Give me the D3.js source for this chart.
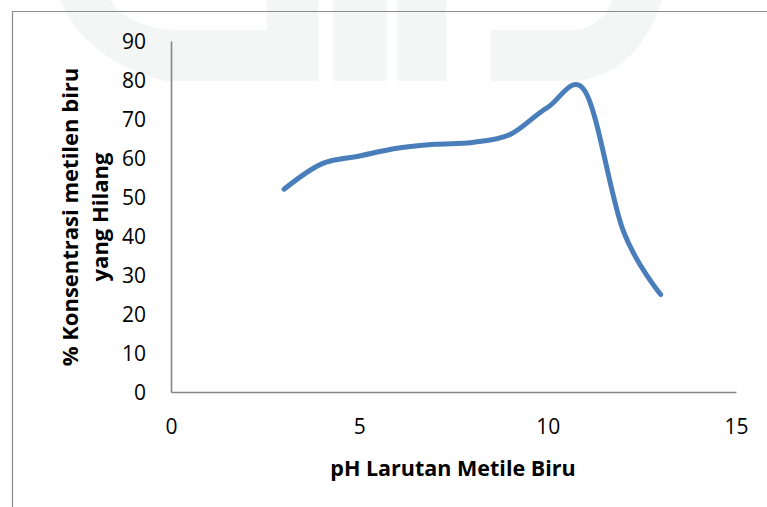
<!DOCTYPE html>
<html>
<head>
<meta charset="utf-8">
<script src="https://cdn.jsdelivr.net/npm/d3@7"></script>
<style>
  html, body { margin: 0; padding: 0; background: #ffffff; }
  svg { display: block; }
  text { font-family: "Open Sans", Carlito, Calibri, sans-serif; fill: #000; }
</style>
</head>
<body>
<svg id="chart" width="767" height="507"></svg>
<script>
// pH of the methylene blue solution and the percentage of dye removed
const phValues = [3, 4, 5, 6, 7, 8, 9, 10, 11, 12, 13];
const removedPercent = [52, 58.5, 60.5, 62.5, 63.5, 64, 66, 73, 77, 41.5, 25];
const xTicks = [0, 5, 10, 15];
const yTicks = [0, 10, 20, 30, 40, 50, 60, 70, 80, 90];
const xTitle = "pH Larutan Metile Biru";
const yTitleLines = ["% Konsentrasi metilen biru", "yang Hilang"];

const svg = d3.select("#chart");
const W = 767, H = 507;
const plot = { left: 171, right: 736, top: 41, bottom: 392 };

// faint background logo shapes
const wm = svg.append("g").attr("fill", "#f4f6f5");
wm.append("path").attr("d",
  "M60,0 L110,0 Q130,28 175,30 L267,30 L267,0 L318,0 L318,81 L165,81 Q85,60 60,0 Z");
wm.append("rect").attr("x", 333).attr("y", 0).attr("width", 54).attr("height", 81);
wm.append("rect").attr("x", 397).attr("y", 0).attr("width", 49).attr("height", 81);
wm.append("path").attr("d",
  "M491,30 L580,30 Q605,22 612,0 L662,0 Q640,70 580,81 L491,81 Z");

// outer frame (left and top edges)
svg.append("path")
  .attr("d", `M12.5,${H} L12.5,11.5 L${W},11.5`)
  .attr("fill", "none").attr("stroke", "#8c8c8c").attr("stroke-width", 1.2);

const x = d3.scaleLinear().domain([0, 15]).range([plot.left, plot.right]);
const y = d3.scaleLinear().domain([0, 90]).range([plot.bottom, plot.top]);

// axes without tick marks
const xAxis = svg.append("g")
  .attr("transform", `translate(0,${plot.bottom})`)
  .call(d3.axisBottom(x).tickValues(xTicks).tickSize(0).tickFormat(d3.format("d")));
const yAxis = svg.append("g")
  .attr("transform", `translate(${plot.left},0)`)
  .call(d3.axisLeft(y).tickValues(yTicks).tickSize(0).tickFormat(d3.format("d")));

[xAxis, yAxis].forEach(g => {
  g.select(".domain").attr("stroke", "#868686").attr("stroke-width", 1.6);
  g.selectAll("text").style("font-size", "21px").attr("fill", "#000");
});
xAxis.selectAll("text").attr("dy", "0.35em").attr("y", 35);
yAxis.selectAll("text").attr("dy", "0.35em").attr("x", -25);

// data line (smoothed)
const line = d3.line()
  .x((d, i) => x(phValues[i]))
  .y(d => y(d))
  .curve(d3.curveCatmullRom.alpha(0));
svg.append("path")
  .datum(removedPercent)
  .attr("d", line)
  .attr("fill", "none")
  .attr("stroke", "#4a7ebb")
  .attr("stroke-width", 5)
  .attr("stroke-linecap", "round")
  .attr("stroke-linejoin", "round");

// axis titles
svg.append("text")
  .attr("x", 453)
  .attr("y", 476)
  .attr("text-anchor", "middle")
  .style("font-size", "21.5px").style("font-weight", "bold")
  .text(xTitle);

const yt = svg.append("text")
  .attr("transform", "translate(0,217) rotate(-90)")
  .attr("text-anchor", "middle")
  .style("font-size", "22px").style("font-weight", "bold");
yt.selectAll("tspan").data(yTitleLines).join("tspan")
  .attr("x", 0)
  .attr("y", (d, i) => 78 + i * 30)
  .text(d => d);
</script>
</body>
</html>
